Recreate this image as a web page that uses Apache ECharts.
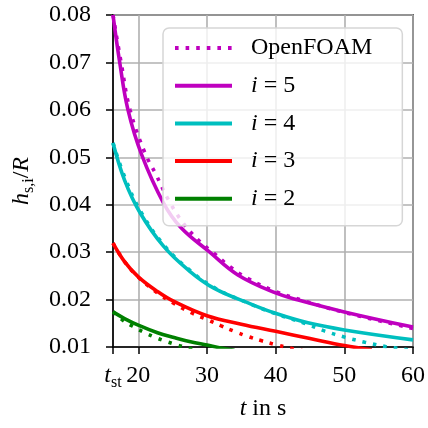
<!DOCTYPE html>
<html><head><meta charset="utf-8">
<script src="https://cdn.jsdelivr.net/npm/echarts@6/dist/echarts.min.js"></script>
<style>html,body{margin:0;padding:0;background:#fff}#c{width:428px;height:428px}</style>
</head><body><div id="c"></div>
<script>
// ---- data ----
const tStart = 16.32;
const xMax = 60;
const yMin = 0.01, yMax = 0.08, yStep = 0.01;

// model curves (solid)
const t5 = [16.32, 17.3, 18.5, 20.5, 23.7, 26.2, 30.4, 34.5, 40, 43.3, 50, 60];
const v5 = [0.080, 0.070, 0.060, 0.0505, 0.0403, 0.0352, 0.0300, 0.0252, 0.0214, 0.0199, 0.0174, 0.0142];
const t4 = [16.32, 18.0, 20.3, 23.7, 27.3, 31.0, 36.5, 40, 44.7, 50, 60];
const v4 = [0.053, 0.0452, 0.0382, 0.0312, 0.0262, 0.0224, 0.0190, 0.0171, 0.0151, 0.0136, 0.0115];
const t3 = [16.32, 18.0, 20.0, 22.8, 25.2, 30.0, 35, 40, 45, 50, 54];
const v3 = [0.0319, 0.0280, 0.0248, 0.0217, 0.0196, 0.0166, 0.0148, 0.0133, 0.0118, 0.0103, 0.0094];
const t2 = [16.32, 18, 20, 22.8, 25.2, 27.6, 30, 32, 34];
const v2 = [0.0174, 0.0160, 0.0146, 0.0130, 0.0120, 0.0111, 0.0104, 0.0098, 0.0093];

// OpenFOAM (dotted)
const f5t = [16.32, 17.5, 18.8, 21.0, 22.5, 24.4, 26.6, 29.0, 31.0, 33.3, 36, 40, 44.2, 50, 60];
const f5v = [0.080, 0.070, 0.060, 0.0508, 0.0466, 0.0410, 0.0360, 0.0322, 0.0298, 0.0270, 0.0244, 0.0217, 0.0197, 0.0173, 0.0139];
const f4t = [16.32, 18.2, 20.5, 23.9, 27.5, 31.2, 36.6, 40, 44.2, 47.1, 50, 53, 56, 60];
const f4v = [0.053, 0.0452, 0.0382, 0.0312, 0.0262, 0.0224, 0.0189, 0.0170, 0.0150, 0.0134, 0.0121, 0.0110, 0.0101, 0.0093];
const f3t = [16.32, 18, 20, 22.8, 25.2, 27.6, 30.3, 32, 34, 36, 38, 40, 42, 44];
const f3v = [0.0319, 0.0280, 0.0247, 0.0214, 0.0192, 0.0173, 0.0156, 0.0145, 0.0133, 0.0122, 0.0113, 0.0105, 0.0098, 0.0092];
const f2t = [16.32, 18, 19.4, 21, 22.5, 24, 25.5, 27, 28.5];
const f2v = [0.0174, 0.0154, 0.0142, 0.0130, 0.0120, 0.0112, 0.0105, 0.0099, 0.0094];

const names = ['OpenFOAM', 'i5', 'i4', 'i3', 'i2'];
const legendText = {OpenFOAM: 'OpenFOAM', i5: '{it|i} = 5', i4: '{it|i} = 4', i3: '{it|i} = 3', i2: '{it|i} = 2'};

const colM = '#bf00bf', colC = '#00bfbf', colR = '#ff0000', colG = '#008000';
const FONT = 'Liberation Serif';
const pairs = (t, v) => t.map((x, i) => [x, v[i]]);

function solid(name, t, v, color) {
  return {name, type: 'line', data: pairs(t, v), smooth: 0.4,
    symbol: 'none', showSymbol: false, z: 2, clip: true,
    lineStyle: {color, width: 3.6}, itemStyle: {color}};
}
function dotted(t, v, color) {
  return {name: 'OpenFOAM', type: 'line', data: pairs(t, v), smooth: 0.4,
    symbol: 'none', showSymbol: false, z: 3, clip: true,
    lineStyle: {color, width: 3.6, type: [3.6, 7], cap: 'butt'}, itemStyle: {color}};
}

const chart = echarts.init(document.getElementById('c'), null, {renderer: 'canvas'});
chart.setOption({
  animation: false,
  grid: {left: 113, top: 15, right: 12, bottom: 81, show: true, borderColor: '#000', borderWidth: 1.6, backgroundColor: 'transparent'},
  xAxis: {
    type: 'value', min: tStart, max: xMax,
    axisLine: {show: true, lineStyle: {color: '#000', width: 1.6}},
    axisTick: {show: true, length: 7, lineStyle: {color: '#000', width: 1.5}},
    splitLine: {show: true, lineStyle: {color: '#b0b0b0', width: 1.6}},
    axisLabel: {
      margin: 14, fontFamily: FONT, fontSize: 24, color: '#000',
      formatter: v => Math.abs(v - tStart) < 1e-6 ? '{it|t}{sub|st}' : '{n|' + v + '}',
      rich: {
        it: {fontFamily: FONT, fontStyle: 'italic', fontSize: 24, lineHeight: 30, verticalAlign: 'middle', color: '#000'},
        sub: {fontFamily: FONT, fontSize: 16, lineHeight: 14, verticalAlign: 'bottom', color: '#000'},
        n: {fontFamily: FONT, fontSize: 24, lineHeight: 30, verticalAlign: 'middle', color: '#000'}
      }
    },
    name: '{it|t} in s', nameLocation: 'middle', nameGap: 50,
    nameTextStyle: {fontFamily: FONT, fontSize: 24, color: '#000',
      rich: {it: {fontFamily: FONT, fontStyle: 'italic', fontSize: 24, color: '#000'}}}
  },
  yAxis: {
    type: 'value', min: yMin, max: yMax, interval: yStep,
    axisLine: {show: true, lineStyle: {color: '#000', width: 1.6}},
    axisTick: {show: true, length: 7, lineStyle: {color: '#000', width: 1.5}},
    splitLine: {show: true, lineStyle: {color: '#b0b0b0', width: 1.6}},
    axisLabel: {margin: 22, fontFamily: FONT, fontSize: 24, color: '#000', formatter: v => v.toFixed(2)},
    name: '{it|h}{sub|s,i}{n|/}{it|R}', nameLocation: 'middle', nameGap: 76, nameRotate: 90,
    nameTextStyle: {fontFamily: FONT, fontSize: 24, color: '#000',
      rich: {
        it: {fontFamily: FONT, fontStyle: 'italic', fontSize: 24, lineHeight: 30, verticalAlign: 'middle', color: '#000'},
        sub: {fontFamily: FONT, fontSize: 16, lineHeight: 12, verticalAlign: 'bottom', color: '#000'},
        n: {fontFamily: FONT, fontSize: 24, lineHeight: 30, verticalAlign: 'middle', color: '#000'}
      }}
  },
  legend: {
    orient: 'vertical', left: 163, top: 28,
    data: names, itemWidth: 57, itemHeight: 24, itemGap: 13.7,
    padding: [8, 30, 15, 10],
    backgroundColor: 'rgba(255,255,255,0.8)', borderColor: '#d6d6d6', borderWidth: 1.5, borderRadius: 6,
    selectedMode: false,
    itemStyle: {color: 'rgba(0,0,0,0)', borderWidth: 0, opacity: 0},
    lineStyle: {width: 4},
    formatter: n => legendText[n],
    textStyle: {fontFamily: FONT, fontSize: 24, color: '#000', padding: [0, 0, 0, 14],
      rich: {it: {fontFamily: FONT, fontStyle: 'italic', fontSize: 24, color: '#000'}}}
  },
  series: [
    dotted(f5t, f5v, colM),
    dotted(f4t, f4v, colC),
    dotted(f3t, f3v, colR),
    dotted(f2t, f2v, colG),
    solid('i5', t5, v5, colM),
    solid('i4', t4, v4, colC),
    solid('i3', t3, v3, colR),
    solid('i2', t2, v2, colG)
  ]
});
</script></body></html>
